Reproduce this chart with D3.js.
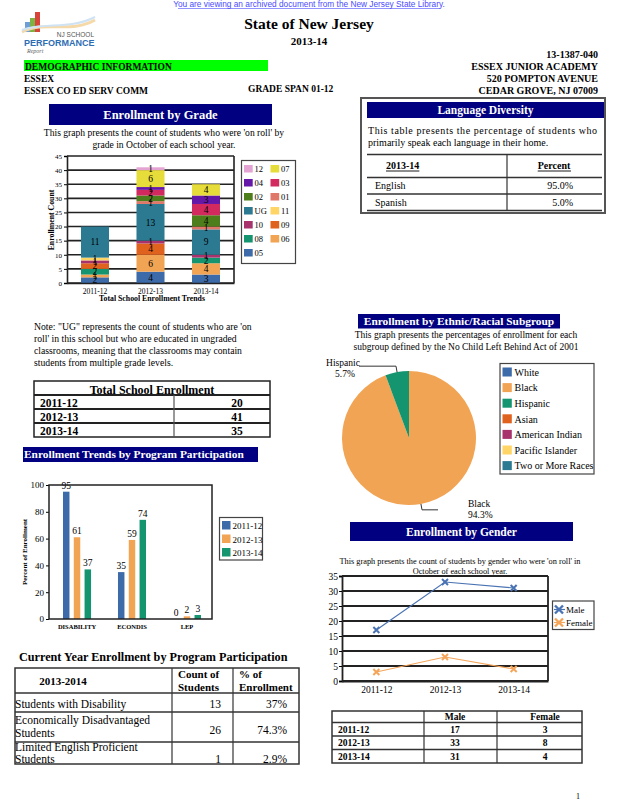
<!DOCTYPE html>
<html>
<head>
<meta charset="utf-8">
<script src="https://cdn.jsdelivr.net/npm/d3@7"></script>
<style>
  body { margin: 0; background: #fff; }
  svg text { font-family: "Liberation Serif", "Times New Roman", serif; }
</style>
</head>
<body>
<div id="page"></div>
<script>
// ---- data ----
const years = ['2011-12', '2012-13', '2013-14'];

// grades in stacking order (bottom -> top)
const gradeKeys = ['05', '06', '08', '09', '10', '11', 'UG', '01', '02', '03', '04', '07', '12'];
const gradeColors = ['#3d6aa8', '#f2a455', '#14946f', '#e0621f', '#a8336c', '#ffd565', '#2c7a92',
  '#e0786a', '#4e7e1b', '#d22a5e', '#6517a8', '#e6dd3a', '#e3a3d3'];
const grade201112 = [2, 1, 2, 2, 1, 1, 11, 0, 0, 0, 0, 0, 0];
const grade201213 = [4, 6, 0, 4, 1, 0, 13, 1, 2, 2, 1, 6, 1];
const grade201314 = [3, 4, 2, 0, 1, 0, 9, 1, 4, 4, 3, 4, 0];
const gradeTicks = [0, 5, 10, 15, 20, 25, 30, 35, 40, 45];

const totalEnrollment = [20, 41, 35];

const programKeys = ['DISABILITY', 'ECONDIS', 'LEP'];
const program201112 = [95, 35, 0];
const program201213 = [61, 59, 2];
const program201314 = [37, 74, 3];
const programColors = ['#3d6aa8', '#f2a455', '#14946f'];
const programTicks = [0, 20, 40, 60, 80, 100];

const ethnicGroups = ['White', 'Black', 'Hispanic', 'Asian', 'American Indian', 'Pacific Islander', 'Two or More Races'];
const ethnicPercent = [0, 94.3, 5.7, 0, 0, 0, 0];
const ethnicColors = ['#3d6aa8', '#f2a455', '#14946f', '#e0621f', '#a8336c', '#ffd565', '#2c7a92'];

const maleCounts = [17, 33, 31];
const femaleCounts = [3, 8, 4];
const genderTicks = [0, 5, 10, 15, 20, 25, 30, 35];

const languages = ['English', 'Spanish'];
const languagePercent = ['95.0%', '5.0%'];

const programRowLabels = [['Students with Disability'], ['Economically Disadvantaged', 'Students'], ['Limited English Proficient', 'Students']];
const programRowCounts = [13, 26, 1];
const programRowPercent = ['37%', '74.3%', '2.9%'];

const NAVY = '#000080';

const svg = d3.select('#page').append('svg')
  .attr('width', 618)
  .attr('height', 800);

// small helpers
function txt(g, x, y, s, size, opts = {}) {
  const t = g.append('text')
    .attr('x', x).attr('y', y)
    .attr('font-size', size)
    .attr('fill', opts.fill || '#000')
    .attr('text-anchor', opts.anchor || 'start')
    .attr('font-weight', opts.bold ? 'bold' : 'normal')
    .text(s);
  if (opts.family) t.style('font-family', opts.family);
  return t;
}
function navyBox(x, y, w, h, label, size, anchor) {
  svg.append('rect').attr('x', x).attr('y', y).attr('width', w).attr('height', h).attr('fill', NAVY);
  const tx = anchor === 'start' ? x + 1 : x + w / 2;
  txt(svg, tx, y + h / 2 + size * 0.35, label, size, {fill: '#fff', bold: true, anchor: anchor || 'middle'});
}
function hline(x1, x2, y, w, c) {
  svg.append('line').attr('x1', x1).attr('x2', x2).attr('y1', y).attr('y2', y)
    .attr('stroke', c || '#222').attr('stroke-width', w || 1.5);
}
function vline(x, y1, y2, w, c) {
  svg.append('line').attr('x1', x).attr('x2', x).attr('y1', y1).attr('y2', y2)
    .attr('stroke', c || '#222').attr('stroke-width', w || 1.5);
}

// ---- header ----
txt(svg, 309, 7, 'You are viewing an archived document from the New Jersey State Library.', 8.3,
  {fill: '#4a4aff', anchor: 'middle', family: '"Liberation Sans", Arial, sans-serif'});
hline(178, 440, 8.5, 0.6, '#4a4aff');

// logo
const logo = svg.append('g');
logo.append('rect').attr('x', 35).attr('y', 12).attr('width', 5).attr('height', 20).attr('fill', '#d9443a');
logo.append('rect').attr('x', 30).attr('y', 18).attr('width', 5).attr('height', 14).attr('fill', '#7cb342');
logo.append('rect').attr('x', 25).attr('y', 22).attr('width', 5).attr('height', 10).attr('fill', '#6d9ed6');
logo.append('path').attr('d', 'M22,32 C45,20 70,34 95,20').attr('fill', 'none').attr('stroke', '#f5d9a8').attr('stroke-width', 3);
logo.append('path').attr('d', 'M22,30 C45,22 70,30 95,17').attr('fill', 'none').attr('stroke', '#cfe3f5').attr('stroke-width', 2);
txt(logo, 94, 37, 'NJ SCHOOL', 6.5, {anchor: 'end', fill: '#555', family: '"Liberation Sans", Arial, sans-serif'});
txt(logo, 24, 46, 'PERFORMANCE', 9, {bold: true, fill: '#2d6db4', family: '"Liberation Sans", Arial, sans-serif'});
txt(logo, 27, 53, 'Report', 6, {fill: '#666', family: 'serif'}).attr('font-style', 'italic');

txt(svg, 309, 29, 'State of New Jersey', 15.5, {bold: true, anchor: 'middle'});
txt(svg, 309, 45, '2013-14', 11, {bold: true, anchor: 'middle'});
txt(svg, 598, 58, '13-1387-040', 10, {bold: true, anchor: 'end'});
svg.append('rect').attr('x', 24).attr('y', 60).attr('width', 244).attr('height', 11).attr('fill', '#00ff00');
txt(svg, 25, 69.5, 'DEMOGRAPHIC INFORMATION', 9.5, {bold: true});
txt(svg, 598, 70, 'ESSEX JUNIOR ACADEMY', 10, {bold: true, anchor: 'end'});
txt(svg, 24, 82, 'ESSEX', 9.5, {bold: true});
txt(svg, 598, 82, '520 POMPTON AVENUE', 10, {bold: true, anchor: 'end'});
txt(svg, 24, 94, 'ESSEX CO ED SERV COMM', 9.5, {bold: true});
txt(svg, 248, 92, 'GRADE SPAN 01-12', 9.5, {bold: true});
txt(svg, 598, 94, 'CEDAR GROVE, NJ 07009', 10, {bold: true, anchor: 'end'});

// ---- enrollment by grade (stacked bars) ----
navyBox(49, 104, 223, 21, 'Enrollment by Grade', 12.5);
txt(svg, 164, 136, 'This graph presents the count of students who were \'on roll\' by', 9.6, {anchor: 'middle'});
txt(svg, 164, 148, 'grade in October of each school year.', 9.6, {anchor: 'middle'});

const gradeByYear = [grade201112, grade201213, grade201314];
const gradeRows = years.map((yr, i) => {
  const row = {year: yr};
  gradeKeys.forEach((k, j) => { row[k] = gradeByYear[i][j]; });
  return row;
});
const gStack = d3.stack().keys(gradeKeys)(gradeRows);
const gx = d3.scaleBand().domain(years).range([67, 234]).paddingInner(0.495).paddingOuter(0.252);
const gy = d3.scaleLinear().domain([0, 45]).range([283, 156]);
const gColor = d3.scaleOrdinal().domain(gradeKeys).range(gradeColors);

const gChart = svg.append('g');
gChart.selectAll('.grid').data(gradeTicks).join('line')
  .attr('x1', 67).attr('x2', 234)
  .attr('y1', (d) => gy(d)).attr('y2', (d) => gy(d))
  .attr('stroke', '#222').attr('stroke-width', 1.6);
vline(234, 156, 283, 1.6);

gStack.forEach((layer) => {
  gChart.selectAll(null).data(layer.filter((d) => d[1] > d[0])).join('rect')
    .attr('x', (d) => gx(d.data.year))
    .attr('y', (d) => gy(d[1]))
    .attr('width', gx.bandwidth())
    .attr('height', (d) => gy(d[0]) - gy(d[1]))
    .attr('fill', gColor(layer.key));
});
gStack.forEach((layer) => {
  gChart.selectAll(null).data(layer.filter((d) => d[1] > d[0])).join('text')
    .attr('x', (d) => gx(d.data.year) + gx.bandwidth() / 2)
    .attr('y', (d) => (gy(d[0]) + gy(d[1])) / 2 + 3.3)
    .attr('text-anchor', 'middle')
    .attr('font-size', 9.5)
    .text((d) => d[1] - d[0]);
});

gChart.append('g')
  .attr('transform', 'translate(67,0)')
  .call(d3.axisLeft(gy).tickValues(gradeTicks).tickSize(3).tickPadding(2))
  .call((g) => g.selectAll('text').attr('font-size', 7).style('font-family', '"Liberation Serif", serif'))
  .call((g) => g.select('.domain').attr('stroke', '#222').attr('stroke-width', 1.6));
gChart.append('g')
  .attr('transform', 'translate(0,283)')
  .call(d3.axisBottom(gx).tickSize(0).tickPadding(6))
  .call((g) => g.selectAll('text').attr('font-size', 7.5).style('font-family', '"Liberation Serif", serif'))
  .call((g) => g.select('.domain').attr('stroke', '#222').attr('stroke-width', 1.6));
txt(svg, 152, 301, 'Total School Enrollment Trends', 7.8, {bold: true, anchor: 'middle'});
txt(svg, 0, 0, 'Enrollment Count', 7.8, {bold: true, anchor: 'middle'})
  .attr('transform', 'translate(54,220) rotate(-90)');

// grade legend
svg.append('rect').attr('x', 241.5).attr('y', 160.5).attr('width', 54).attr('height', 103)
  .attr('fill', '#fff').attr('stroke', '#444').attr('stroke-width', 1.2);
const legendOrder = gradeKeys.slice().reverse();
const gLeg = svg.selectAll('.gleg').data(legendOrder).join('g')
  .attr('transform', (d, i) => `translate(${244 + (i % 2) * 26.5},${165 + Math.floor(i / 2) * 14})`);
gLeg.append('rect').attr('width', 8.7).attr('height', 7.5).attr('fill', (d) => gColor(d));
gLeg.append('text').attr('x', 10.5).attr('y', 7).attr('font-size', 8.5).text((d) => d);

// ---- note ----
const noteLines = ['Note: "UG" represents the count of students who are \'on',
  'roll\' in this school but who are educated in ungraded',
  'classrooms, meaning that the classrooms may contain',
  'students from multiple grade levels.'];
noteLines.forEach((l, i) => txt(svg, 34, 330 + i * 12, l, 9.7));

// ---- total school enrollment table ----
svg.append('rect').attr('x', 34).attr('y', 381).attr('width', 236).attr('height', 56)
  .attr('fill', 'none').attr('stroke', '#222').attr('stroke-width', 1.5);
txt(svg, 152, 393.5, 'Total School Enrollment', 12, {bold: true, anchor: 'middle'});
const totY = d3.scaleBand().domain(years).range([395, 437]);
years.forEach((yr, i) => {
  hline(34, 270, totY(yr), 2);
  txt(svg, 40, totY(yr) + 11.5, yr, 11.5, {bold: true});
  txt(svg, 237, totY(yr) + 11.5, totalEnrollment[i], 11.5, {bold: true, anchor: 'middle'});
});
vline(174, 395, 437, 1.2, '#555');

// ---- enrollment trends by program participation ----
navyBox(23, 447, 235, 15, 'Enrollment Trends by Program Participation', 11.4, 'start');

const programByYear = [program201112, program201213, program201314];
const px0 = d3.scaleBand().domain(programKeys).range([52, 212]).paddingInner(0.49).paddingOuter(0.2);
const px1 = d3.scaleBand().domain(years).range([0, px0.bandwidth()]).paddingInner(0.4);
const py = d3.scaleLinear().domain([0, 100]).range([619, 485]);
const pChart = svg.append('g');
const pBars = [];
programKeys.forEach((k, ci) => years.forEach((yr, yi) => pBars.push({k, yr, v: programByYear[yi][ci], c: programColors[yi]})));
pChart.selectAll('rect.bar').data(pBars).join('rect')
  .attr('class', 'bar')
  .attr('x', (d) => px0(d.k) + px1(d.yr))
  .attr('y', (d) => py(d.v))
  .attr('width', px1.bandwidth())
  .attr('height', (d) => py(0) - py(d.v))
  .attr('fill', (d) => d.c);
pChart.selectAll('text.val').data(pBars).join('text')
  .attr('class', 'val')
  .attr('x', (d) => px0(d.k) + px1(d.yr) + px1.bandwidth() / 2)
  .attr('y', (d) => py(d.v) - 3)
  .attr('text-anchor', 'middle')
  .attr('font-size', 9.5)
  .text((d) => d.v);
svg.append('rect').attr('x', 49).attr('y', 485).attr('width', 163).attr('height', 134)
  .attr('fill', 'none').attr('stroke', '#222').attr('stroke-width', 1.5);
pChart.append('g')
  .attr('transform', 'translate(49,0)')
  .call(d3.axisLeft(py).tickValues(programTicks).tickSize(3).tickPadding(2))
  .call((g) => g.selectAll('text').attr('font-size', 9).style('font-family', '"Liberation Serif", serif'))
  .call((g) => g.select('.domain').remove());
pChart.append('g')
  .attr('transform', 'translate(0,619)')
  .call(d3.axisBottom(px0).tickSize(0).tickPadding(5))
  .call((g) => g.selectAll('text').attr('font-size', 6.5).attr('font-weight', 'bold').style('font-family', '"Liberation Serif", serif'))
  .call((g) => g.select('.domain').remove());
txt(svg, 0, 0, 'Percent of Enrollment', 7, {bold: true, anchor: 'middle'})
  .attr('transform', 'translate(27,552) rotate(-90)');

svg.append('rect').attr('x', 219.5).attr('y', 517.5).attr('width', 43).attr('height', 42.5)
  .attr('fill', '#fff').attr('stroke', '#444').attr('stroke-width', 1.2);
const pLeg = svg.selectAll('.pleg').data(years).join('g')
  .attr('transform', (d, i) => `translate(222,${521 + i * 13.5})`);
pLeg.append('rect').attr('width', 8.5).attr('height', 8.5).attr('fill', (d, i) => programColors[i]);
pLeg.append('text').attr('x', 10.5).attr('y', 8).attr('font-size', 9).text((d) => d);

// ---- current year enrollment by program participation table ----
txt(svg, 19, 661, 'Current Year Enrollment by Program Participation', 12.2, {bold: true});
svg.append('rect').attr('x', 15).attr('y', 668).attr('width', 284).attr('height', 96)
  .attr('fill', 'none').attr('stroke', '#333').attr('stroke-width', 1.5);
[693, 712, 742].forEach((y) => hline(15, 299, y, 1.5, '#333'));
[172, 233].forEach((x) => vline(x, 668, 764, 1.2, '#333'));
txt(svg, 63, 685, '2013-2014', 11, {bold: true, anchor: 'middle'});
txt(svg, 178, 678, 'Count of', 11, {bold: true});
txt(svg, 178, 690.5, 'Students', 11, {bold: true});
txt(svg, 239, 678, '% of', 11, {bold: true});
txt(svg, 239, 690.5, 'Enrollment', 11, {bold: true});
const rowBase = [[708], [724, 737], [751, 763]];
programRowLabels.forEach((lines, i) => {
  lines.forEach((l, j) => txt(svg, 15, rowBase[i][j], l, 11.5));
  const vy = i === 1 ? 734 : rowBase[i][rowBase[i].length - 1];
  txt(svg, 221, vy, programRowCounts[i], 11.5, {anchor: 'end'});
  txt(svg, 287, vy, programRowPercent[i], 11.5, {anchor: 'end'});
});

// ---- language diversity ----
svg.append('rect').attr('x', 361).attr('y', 98).attr('width', 244).attr('height', 115)
  .attr('fill', '#fff').attr('stroke', '#555').attr('stroke-width', 2);
navyBox(367, 102, 237, 16, 'Language Diversity', 11.5);
txt(svg, 368, 134, 'This table presents the percentage of students who', 10).attr('textLength', 229).attr('lengthAdjust', 'spacing');
txt(svg, 368, 146, 'primarily speak each language in their home.', 10);
hline(367, 602, 154.5, 1.5, '#333');
hline(367, 602, 177.5, 1.5, '#333');
const langY = d3.scaleBand().domain(languages).range([177.5, 210.5]);
languages.forEach((l, i) => {
  hline(367, 602, langY(l) + langY.bandwidth(), 1.5, '#333');
  txt(svg, 375, langY(l) + 11.5, l, 10);
  txt(svg, 573, langY(l) + 11.5, languagePercent[i], 10, {anchor: 'end'});
});
vline(507, 154.5, 210.5, 1.2, '#333');
const h1 = txt(svg, 386, 169, '2013-14', 10, {bold: true});
const h2 = txt(svg, 554, 169, 'Percent', 10, {bold: true, anchor: 'middle'});
[h1, h2].forEach((t) => {
  const b = t.node().getBBox();
  hline(b.x, b.x + b.width, 171, 0.9, '#000');
});

// ---- ethnic pie ----
navyBox(358, 314, 202, 14.5, 'Enrollment by Ethnic/Racial Subgroup', 11.4);
txt(svg, 466, 338, 'This graph presents the percentages of enrollment for each', 9.5, {anchor: 'middle'});
txt(svg, 466, 349.5, 'subgroup defined by the No Child Left Behind Act of 2001', 9.5, {anchor: 'middle'});

const pieCx = 409, pieCy = 438, pieR = 67;
const pieData = d3.pie().sort(null).value((d) => d)(ethnicPercent);
const arc = d3.arc().innerRadius(0).outerRadius(pieR);
const pie = svg.append('g').attr('transform', `translate(${pieCx},${pieCy})`);
pie.selectAll('path').data(pieData.filter((d) => d.value > 0)).join('path')
  .attr('d', arc)
  .attr('fill', (d) => ethnicColors[d.index]);
pieData.filter((d) => d.value > 0).forEach((d) => {
  const mid = (d.startAngle + d.endAngle) / 2;
  const p0 = [Math.sin(mid) * pieR, -Math.cos(mid) * pieR];
  const p1 = [Math.sin(mid) * (pieR + 6), -Math.cos(mid) * (pieR + 6)];
  const right = Math.sin(mid) > 0;
  const p2 = [p1[0] + (right ? 16 : -37), p1[1]];
  pie.append('polyline').attr('points', [p0, p1, p2].map((p) => p.join(',')).join(' '))
    .attr('fill', 'none').attr('stroke', '#333').attr('stroke-width', 1);
  const lx = right ? p2[0] + 30 : p2[0] - 24;
  const ly = right ? p2[1] - 3 : p2[1] - 0.5;
  txt(pie, right ? lx - 0 : lx + 8, ly, ethnicGroups[d.index], 9.5, {anchor: right ? 'start' : 'middle'});
  txt(pie, right ? lx : lx + 10, ly + 11, `${d.value}%`, 9.5, {anchor: right ? 'start' : 'middle'});
});

svg.append('rect').attr('x', 500).attr('y', 363.5).attr('width', 94).attr('height', 110.5)
  .attr('fill', '#fff').attr('stroke', '#444').attr('stroke-width', 1.2);
const eLeg = svg.selectAll('.eleg').data(ethnicGroups).join('g')
  .attr('transform', (d, i) => `translate(502.5,${367.5 + i * 15.6})`);
eLeg.append('rect').attr('width', 9.3).attr('height', 9).attr('fill', (d, i) => ethnicColors[i]);
eLeg.append('text').attr('x', 12).attr('y', 8.3).attr('font-size', 10).text((d) => d);

// ---- enrollment by gender ----
navyBox(350, 522, 223, 19, 'Enrollment by Gender', 11.5);
txt(svg, 460, 563.5, 'This graph presents the count of students by gender who were \'on roll\' in', 8.3, {anchor: 'middle'});
txt(svg, 460, 574, 'October of each school year.', 8.3, {anchor: 'middle'});

const lx = d3.scalePoint().domain(years).range([342, 548]).padding(0.5);
const ly = d3.scaleLinear().domain([0, 35]).range([681, 576]);
const lChart = svg.append('g');
lChart.selectAll('.grid').data(genderTicks).join('line')
  .attr('x1', 342).attr('x2', 548)
  .attr('y1', (d) => ly(d)).attr('y2', (d) => ly(d))
  .attr('stroke', '#222').attr('stroke-width', 1.8);
vline(548, 576, 681, 1.8);
lChart.append('g')
  .attr('transform', 'translate(342,0)')
  .call(d3.axisLeft(ly).tickValues(genderTicks).tickSize(3).tickPadding(1))
  .call((g) => g.selectAll('text').attr('font-size', 9.5).style('font-family', '"Liberation Serif", serif'))
  .call((g) => g.select('.domain').attr('stroke', '#222').attr('stroke-width', 1.8));
lChart.append('g')
  .attr('transform', 'translate(0,681)')
  .call(d3.axisBottom(lx).tickSize(0).tickPadding(5))
  .call((g) => g.selectAll('text').attr('font-size', 9.5).style('font-family', '"Liberation Serif", serif'))
  .call((g) => g.select('.domain').attr('stroke', '#222').attr('stroke-width', 1.8));

const xMark = (s) => `M${-s},${-s}L${s},${s}M${-s},${s}L${s},${-s}`;
const genderSeries = [{name: 'Male', vals: maleCounts, c: '#4a73b3'}, {name: 'Female', vals: femaleCounts, c: '#f5a55a'}];
genderSeries.forEach((s) => {
  lChart.append('path')
    .attr('d', d3.line().x((d, i) => lx(years[i])).y((d) => ly(d))(s.vals))
    .attr('fill', 'none').attr('stroke', s.c).attr('stroke-width', 1.2);
  lChart.selectAll(null).data(s.vals).join('path')
    .attr('transform', (d, i) => `translate(${lx(years[i])},${ly(d)})`)
    .attr('d', xMark(3))
    .attr('stroke', s.c).attr('stroke-width', 2);
});
svg.append('rect').attr('x', 552.5).attr('y', 601).attr('width', 41.5).attr('height', 28.5)
  .attr('fill', '#fff').attr('stroke', '#444').attr('stroke-width', 1.2);
genderSeries.forEach((s, i) => {
  const g = svg.append('g').attr('transform', `translate(559,${609.5 + i * 13})`);
  g.append('line').attr('x1', -5).attr('x2', 6).attr('stroke', s.c).attr('stroke-width', 1.2);
  g.append('path').attr('d', xMark(4)).attr('stroke', s.c).attr('stroke-width', 2.4);
  txt(g, 7, 3.5, s.name, 9);
});

// gender table
svg.append('rect').attr('x', 332).attr('y', 711).attr('width', 250).attr('height', 52)
  .attr('fill', 'none').attr('stroke', '#333').attr('stroke-width', 1.5);
hline(332, 582, 722.5, 1.5, '#333');
const gtY = d3.scaleBand().domain(years).range([722.5, 763]);
years.forEach((yr, i) => {
  if (i > 0) hline(332, 582, gtY(yr), 1.5, '#333');
  txt(svg, 338, gtY(yr) + 10, yr, 9.5, {bold: true});
  txt(svg, 455, gtY(yr) + 10, maleCounts[i], 9.5, {bold: true, anchor: 'middle'});
  txt(svg, 545, gtY(yr) + 10, femaleCounts[i], 9.5, {bold: true, anchor: 'middle'});
});
[424, 497].forEach((x) => vline(x, 711, 763, 1.2, '#333'));
txt(svg, 455, 720, 'Male', 9.5, {bold: true, anchor: 'middle'});
txt(svg, 545, 720, 'Female', 9.5, {bold: true, anchor: 'middle'});

txt(svg, 578, 799, '1', 8, {anchor: 'middle'});
</script>
</body>
</html>
